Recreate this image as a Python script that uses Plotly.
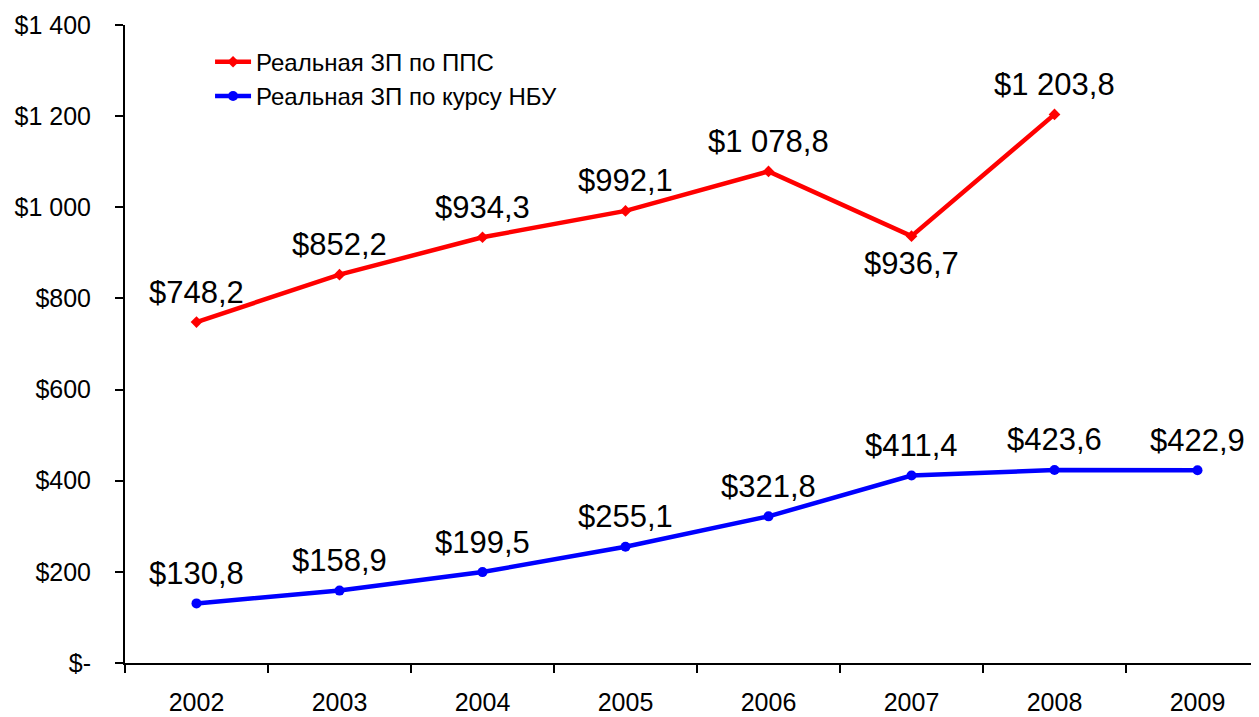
import plotly.graph_objects as go

years = ["2002", "2003", "2004", "2005", "2006", "2007", "2008", "2009"]
ppp_years = ["2002", "2003", "2004", "2005", "2006", "2007", "2008"]
ppp_values = [748.2, 852.2, 934.3, 992.1, 1078.8, 936.7, 1203.8]
nbu_values = [130.8, 158.9, 199.5, 255.1, 321.8, 411.4, 423.6, 422.9]
ppp_label_pos = ["above", "above", "above", "above", "above", "below", "above"]
nbu_label_pos = ["above"] * 8
ppp_name = "Реальная ЗП по ППС"
nbu_name = "Реальная ЗП по курсу НБУ"
y_tickvals = [0, 200, 400, 600, 800, 1000, 1200, 1400]
y_ticktext = ["$-", "$200", "$400", "$600", "$800", "$1 000", "$1 200", "$1 400"]

FONT = "Arial, Liberation Sans, sans-serif"


def fmt(v):
    whole = int(v)
    dec = int(round((v - whole) * 10))
    s = f"{whole:,}".replace(",", " ")
    return f"${s},{dec}"


fig = go.Figure()
fig.add_trace(go.Scatter(
    x=ppp_years, y=ppp_values, name=ppp_name, mode="lines+markers",
    line=dict(color="#ff0000", width=4.5),
    marker=dict(symbol="diamond", size=9, color="#ff0000"),
))
fig.add_trace(go.Scatter(
    x=years, y=nbu_values, name=nbu_name, mode="lines+markers",
    line=dict(color="#0000ff", width=4.5),
    marker=dict(symbol="circle", size=10, color="#0000ff"),
))

annotations = []
for xs, vals, pos in [(ppp_years, ppp_values, ppp_label_pos), (years, nbu_values, nbu_label_pos)]:
    for x, v, p in zip(xs, vals, pos):
        annotations.append(dict(
            x=years.index(x), y=v, xref="x", yref="y", text=fmt(v), showarrow=False,
            yshift=30 if p == "above" else -27, xanchor="center", yanchor="middle",
            font=dict(family=FONT, size=31, color="#000000"),
        ))

# the page body has an 8px margin, so the figure is drawn 8px in and 8px down
fig.update_layout(
    width=1251, height=709,
    margin=dict(l=117, r=0, t=17, b=54),
    paper_bgcolor="white", plot_bgcolor="white",
    font=dict(family=FONT, color="#000000"),
    showlegend=True,
    legend=dict(
        x=0.075, y=0.977, xanchor="left", yanchor="top",
        font=dict(family=FONT, size=24, color="#000000"),
        bgcolor="rgba(0,0,0,0)", itemwidth=36, tracegroupgap=0,
    ),
    annotations=annotations,
    xaxis=dict(
        type="category", categoryorder="array", categoryarray=years,
        range=[-0.5, 7.43], showgrid=False, zeroline=False,
        showline=True, linecolor="#000000", linewidth=2,
        ticks="outside", tickson="boundaries", ticklen=8, tickwidth=2, tickcolor="#000000",
        tickfont=dict(family=FONT, size=25, color="#000000"),
        ticklabelstandoff=16,
    ),
    yaxis=dict(
        range=[0, 1400], tickvals=y_tickvals, ticktext=y_ticktext,
        showgrid=False, zeroline=False,
        showline=True, linecolor="#000000", linewidth=2,
        ticks="outside", ticklen=8, tickwidth=2, tickcolor="#000000",
        tickfont=dict(family=FONT, size=25, color="#000000"),
        ticklabelstandoff=19,
    ),
)

fig.write_html("out.html")
